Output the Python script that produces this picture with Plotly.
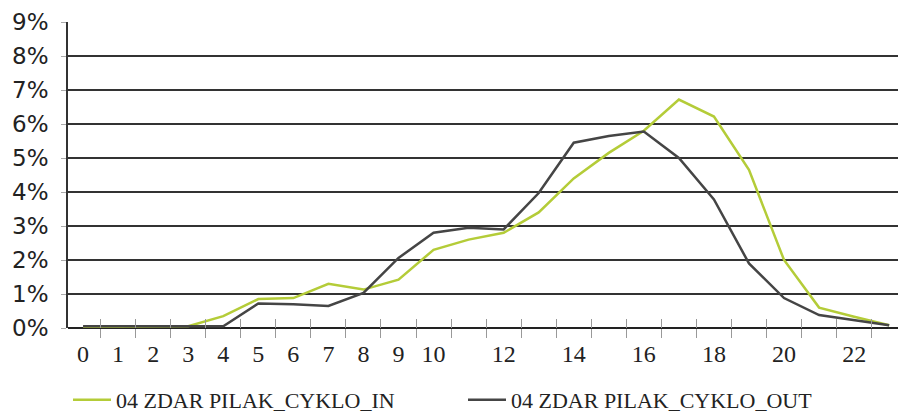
import plotly.graph_objects as go

hours = [str(h) for h in range(24)]
series_in = [0.03, 0.03, 0.03, 0.05, 0.35, 0.85, 0.88, 1.3, 1.13, 1.42, 2.3, 2.6,
             2.8, 3.4, 4.4, 5.15, 5.8, 6.72, 6.22, 4.65, 2.0, 0.6, 0.33, 0.08]
series_out = [0.05, 0.05, 0.03, 0.03, 0.05, 0.72, 0.7, 0.65, 1.03, 2.06, 2.8, 2.95,
              2.9, 3.97, 5.45, 5.65, 5.78, 5.0, 3.78, 1.9, 0.88, 0.38, 0.24, 0.08]
x_tick_text = ["0", "1", "2", "3", "4", "5", "6", "7", "8", "9", "10", "", "12", "",
               "14", "", "16", "", "18", "", "20", "", "22", ""]
y_tick_vals = [0, 1, 2, 3, 4, 5, 6, 7, 8, 9]
y_tick_text = [f"{v}%" for v in y_tick_vals]
name_in = "04 ZDAR PILAK_CYKLO_IN"
name_out = "04 ZDAR PILAK_CYKLO_OUT"

x_range = [-0.43, 23.48]

fig = go.Figure()
fig.add_trace(go.Scatter(x=hours, y=series_in, name=name_in, mode="lines",
                         line=dict(color="#b4cc38", width=2.5)))
fig.add_trace(go.Scatter(x=hours, y=series_out, name=name_out, mode="lines",
                         line=dict(color="#454545", width=2.5)))
# invisible copy on an overlaid linear axis, only to draw the upper half of the ticks
fig.add_trace(go.Scatter(x=list(range(24)), y=series_in, xaxis="x2", mode="lines",
                         line=dict(color="rgba(0,0,0,0)", width=0),
                         showlegend=False, hoverinfo="skip"))

# page body has an 8px margin, so the figure is 8px smaller than the window
fig.update_layout(
    width=898, height=410,
    margin=dict(l=60, r=0, t=14, b=90, autoexpand=False),
    paper_bgcolor="white", plot_bgcolor="white",
    showlegend=True,
    legend=dict(orientation="h", x=0.0, xanchor="left", y=-0.235, yanchor="middle",
                font=dict(family="Liberation Sans Narrow", size=22, color="#222"),
                itemwidth=38, entrywidth=342, entrywidthmode="pixels",
                tracegroupgap=0, bgcolor="rgba(0,0,0,0)"),
    xaxis=dict(type="category", categoryorder="array", categoryarray=hours,
               range=x_range, tickvals=hours, ticktext=x_tick_text,
               tickson="boundaries", ticks="outside", ticklen=9,
               tickcolor="#999", tickwidth=1.2, ticklabelstandoff=9,
               showgrid=False, zeroline=False, showline=False, automargin=False,
               tickfont=dict(family="Liberation Sans Narrow", size=24, color="#222")),
    xaxis2=dict(range=x_range, overlaying="x", side="bottom", anchor="y",
                showticklabels=False, tickmode="linear",
                tick0=0.5, dtick=1, ticks="inside", ticklen=9, tickcolor="#999",
                tickwidth=1.2,
                showgrid=False, zeroline=False, showline=False, automargin=False),
    yaxis=dict(range=[0, 9], tickvals=y_tick_vals, ticktext=y_tick_text,
               ticks="outside", ticklen=5, tickcolor="#aaa", automargin=False,
               ticklabelstandoff=8,
               showgrid=True, gridcolor="#333", gridwidth=1.6,
               zeroline=True, zerolinecolor="#222", zerolinewidth=2,
               showline=True, linecolor="#333", linewidth=1.6,
               tickfont=dict(family="DejaVu Sans", size=23, color="#222")),
)

fig.write_html("out.html")
